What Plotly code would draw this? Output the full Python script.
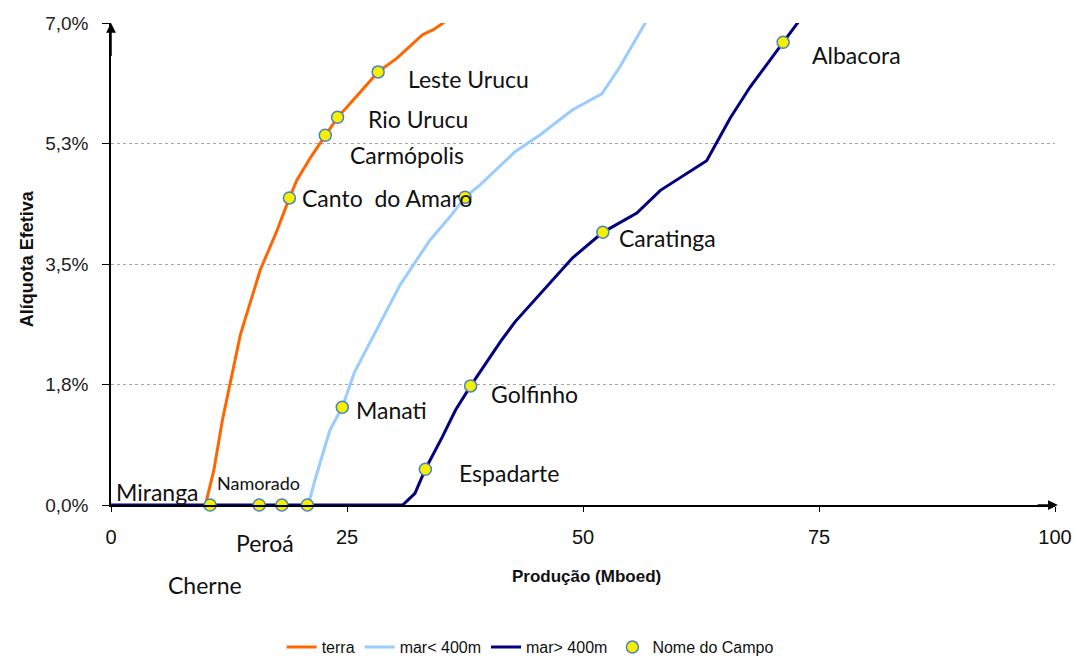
import plotly.graph_objects as go

# ── Palette ──────────────────────────────────────────────────────────────────
ORANGE = "#FF6600"
LIGHT = "#99CCFF"
NAVY = "#000080"
YELLOW = "#F5F000"
EDGE = "#4F81BD"
GRID = "#A6A6A6"
LABEL_FONT = "Lato"
AXIS_FONT = "Liberation Sans"

# ── Data ──────────────────────────────────────────────────────────────────────
terra_x = [10.0, 10.9, 11.8, 13.7, 15.8, 17.6, 18.9, 19.7, 21.2, 22.7, 24.0, 25.0,
           26.6, 28.3, 30.3, 33.0, 34.1, 35.2, 35.4]
terra_y = [0.00, 0.51, 1.23, 2.47, 3.41, 3.99, 4.46, 4.72, 5.06, 5.37, 5.63, 5.78,
           6.03, 6.29, 6.49, 6.83, 6.90, 7.00, 7.05]

raso_x = [20.9, 21.6, 23.2, 24.5, 25.8, 27.6, 30.6, 33.8, 36.0, 37.5, 39.1, 42.8,
          45.4, 48.9, 52.0, 53.9, 56.6, 56.8]
raso_y = [0.00, 0.36, 1.09, 1.42, 1.93, 2.40, 3.19, 3.85, 4.20, 4.47, 4.65, 5.13,
          5.37, 5.74, 5.97, 6.36, 7.00, 7.05]

fundo_x = [0.0, 30.9, 32.2, 33.3, 35.1, 36.5, 38.1, 41.4, 42.8, 45.4, 48.9, 52.1,
           55.7, 58.2, 63.1, 65.6, 67.7, 71.2, 72.8, 73.0]
fundo_y = [0.00, 0.00, 0.17, 0.52, 0.99, 1.38, 1.73, 2.40, 2.66, 3.05, 3.59, 3.96,
           4.24, 4.57, 5.00, 5.62, 6.07, 6.72, 7.00, 7.05]

campo_nome = ["Miranga", "Namorado", "Peroá", "Cherne", "Canto  do Amaro",
              "Carmópolis", "Rio Urucu", "Leste Urucu", "Manati", "",
              "Espadarte", "Golfinho", "Caratinga", "Albacora"]
campo_x = [10.5, 15.7, 18.1, 20.8, 18.9, 22.7, 24.0, 28.3, 24.5, 37.5,
           33.3, 38.1, 52.1, 71.2]
campo_y = [0.00, 0.00, 0.00, 0.00, 4.46, 5.37, 5.63, 6.29, 1.42, 4.47,
           0.52, 1.73, 3.96, 6.72]

x_ticks = [0, 25, 50, 75, 100]
y_ticks = [0, 1.75, 3.5, 5.25, 7.0]
y_ticktext = ["0,0%", "1,8%", "3,5%", "5,3%", "7,0%"]

# label placement (pixel offsets from marker, anchor, font size)
label_style = {
    "Miranga":         (-9, 13, "right", 23),
    "Namorado":        (-1, 22, "center", 18),
    "Peroá":           (-17, -38, "center", 23),
    "Cherne":          (-102, -80, "center", 23),
    "Canto  do Amaro": (11, 0, "left", 23),
    "Carmópolis":      (23, -20, "left", 23),
    "Rio Urucu":       (28, -2, "left", 23),
    "Leste Urucu":     (28, -7, "left", 23),
    "Manati":          (12, -3, "left", 23),
    "Espadarte":       (32, -4, "left", 23),
    "Golfinho":        (18, -8, "left", 23),
    "Caratinga":       (14, -6, "left", 23),
    "Albacora":        (27, -13, "left", 23),
}

fig = go.Figure()

fig.add_trace(go.Scatter(x=terra_x, y=terra_y, mode="lines", name="terra",
                         line=dict(color=ORANGE, width=3), hoverinfo="skip"))
fig.add_trace(go.Scatter(x=raso_x, y=raso_y, mode="lines", name="mar< 400m",
                         line=dict(color=LIGHT, width=3), hoverinfo="skip"))
fig.add_trace(go.Scatter(x=fundo_x, y=fundo_y, mode="lines", name="mar> 400m",
                         line=dict(color=NAVY, width=3), hoverinfo="skip"))
fig.add_trace(go.Scatter(
    x=campo_x, y=campo_y, mode="markers", name="Nome do Campo",
    marker=dict(color=YELLOW, size=12, line=dict(color=EDGE, width=1.5)),
    text=campo_nome, hoverinfo="text", cliponaxis=False,
))

# field labels
for nome, xv, yv in zip(campo_nome, campo_x, campo_y):
    if not nome:
        continue
    dx, dy, anchor, size = label_style[nome]
    fig.add_annotation(
        x=xv, y=yv, text=nome, showarrow=False,
        xshift=dx, yshift=dy, xanchor=anchor, yanchor="middle",
        font=dict(family=LABEL_FONT, size=size, color="#111111"),
    )

# axis arrows
fig.add_annotation(x=0, y=7.0, ax=0, ay=6.5, xref="x", yref="y", axref="x", ayref="y",
                   text="", showarrow=True, arrowhead=2, arrowsize=1.3,
                   arrowwidth=1.5, arrowcolor="black", standoff=0)
fig.add_annotation(x=100.3, y=0, ax=98, ay=0, xref="x", yref="y", axref="x", ayref="y",
                   text="", showarrow=True, arrowhead=2, arrowsize=1.3,
                   arrowwidth=1.5, arrowcolor="black", standoff=0)

# axis titles
fig.add_annotation(x=0.504, y=-0.149, xref="paper", yref="paper",
                   text="<b>Produção (Mboed)</b>", showarrow=False,
                   font=dict(family=AXIS_FONT, size=17, color="#111111"),
                   xanchor="center", yanchor="middle")
fig.add_annotation(x=-0.089, y=0.512, xref="paper", yref="paper",
                   text="<b>Alíquota Efetiva</b>", showarrow=False, textangle=-90,
                   font=dict(family=AXIS_FONT, size=18, color="#111111"),
                   xanchor="center", yanchor="middle")

fig.update_layout(
    width=1077, height=658,
    paper_bgcolor="white", plot_bgcolor="white",
    margin=dict(l=111, r=22, t=23, b=153, autoexpand=False),
    showlegend=True,
    legend=dict(orientation="h", x=0.444, xanchor="center", y=-0.295, yanchor="middle",
                font=dict(family=AXIS_FONT, size=16, color="#111111"),
                itemwidth=30, bgcolor="rgba(0,0,0,0)"),
)

fig.update_xaxes(
    range=[0, 100], tickvals=x_ticks, ticktext=[str(v) for v in x_ticks],
    showgrid=False, zeroline=False, showline=True, linecolor="black", linewidth=1.5,
    ticks="outside", ticklen=5, tickcolor="black", ticklabelstandoff=8,
    tickfont=dict(family=AXIS_FONT, size=20, color="#111111"),
)
fig.update_yaxes(
    range=[0, 7.0], tickvals=y_ticks, ticktext=y_ticktext,
    showgrid=True, gridcolor=GRID, griddash="dot", gridwidth=1,
    zeroline=False, showline=True, linecolor="black", linewidth=1.5,
    ticks="outside", ticklen=7, tickcolor="black", ticklabelstandoff=10,
    tickfont=dict(family=AXIS_FONT, size=19, color="#222222"),
)

fig.write_html("out.html", config={"displayModeBar": False},
               post_script="document.body.style.margin='0';")
